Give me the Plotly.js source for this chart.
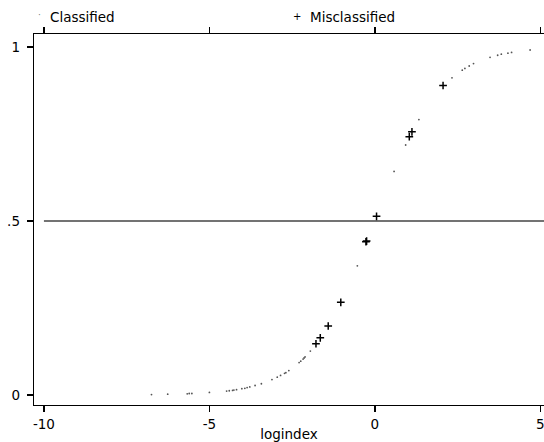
<!DOCTYPE html>
<html>
<head>
<meta charset="utf-8">
<script src="https://cdn.plot.ly/plotly-3.0.1.min.js"></script>
<style>html,body{margin:0;padding:0;background:#fff;}#chart{width:544px;height:442px;}</style>
</head>
<body>
<div id="chart"></div>
<script>
// Classified observations (logindex, predicted probability)
const classifiedX = [-6.75,-6.26,-5.67,-5.61,-5.53,-5.00,-4.48,-4.40,-4.30,-4.26,-4.18,-4.02,-3.93,-3.86,-3.78,-3.62,-3.43,-3.11,-2.95,-2.85,-2.73,-2.69,-2.60,-2.29,-2.24,-2.17,-2.14,-2.11,-1.95,-0.53,0.58,0.93,1.33,2.33,2.64,2.72,2.85,2.98,3.48,3.71,3.82,4.02,4.13,4.69];
const classifiedY = [0.001,0.002,0.003,0.004,0.004,0.007,0.011,0.012,0.013,0.014,0.015,0.018,0.019,0.021,0.023,0.027,0.032,0.044,0.051,0.056,0.062,0.064,0.070,0.093,0.097,0.103,0.106,0.109,0.126,0.371,0.642,0.718,0.791,0.911,0.933,0.938,0.945,0.952,0.970,0.976,0.979,0.982,0.984,0.991];
// Misclassified observations
const misX = [-1.78,-1.65,-1.41,-1.03,-0.27,-0.25,0.05,1.04,1.12,2.06];
const misY = [0.147,0.164,0.198,0.266,0.440,0.442,0.513,0.742,0.756,0.889];
// Axis ticks
const xTicks = [-10,-5,0,5];
const xTickText = ['-10','-5','0','5'];
const yTicks = [0,0.5,1];
const yTickText = ['0','.5','1'];
const cutoff = 0.5;
const legendLabels = ['Classified','Misclassified'];

const FONT = 'DejaVu Sans, Liberation Sans, Arial, sans-serif';
const FS = 13.5;

const traces = [
  {x: classifiedX, y: classifiedY, type: 'scatter', mode: 'markers', name: legendLabels[0],
   marker: {symbol: 'circle', size: 1.8, color: '#555'}, showlegend: false},
  {x: misX, y: misY, type: 'scatter', mode: 'markers', name: legendLabels[1],
   marker: {symbol: 'cross-thin', size: 5.5, color: '#000', line: {color: '#000', width: 1.5}}, showlegend: false}
];

const W = 544, H = 442, L = 34, R = 0, T = 34, B = 37;
const pw = W - L - R, ph = H - T - B;
const px = v => (v - L) / pw;
const py = v => 1 + (T - v) / ph;

const layout = {
  width: W, height: H,
  margin: {l: L, r: R, t: T, b: B, pad: 0},
  paper_bgcolor: '#fff', plot_bgcolor: '#fff',
  font: {family: FONT, size: FS, color: '#000'},
  showlegend: false,
  xaxis: {
    range: [-10.3, 5.11], tickvals: xTicks, ticktext: xTickText,
    showgrid: false, zeroline: false, showline: true, linecolor: '#000', linewidth: 1.3,
    mirror: 'ticks', ticks: 'outside', ticklen: 6, tickwidth: 1.3, tickcolor: '#000',
    tickfont: {family: FONT, size: FS, color: '#000'}, ticklabeloverflow: 'allow',
    title: {text: 'logindex', font: {family: FONT, size: FS, color: '#000'}, standoff: 0},
    automargin: false
  },
  yaxis: {
    range: [-0.029, 1.037], tickvals: yTicks, ticktext: yTickText,
    showgrid: false, zeroline: false, showline: true, linecolor: '#000', linewidth: 1.3,
    mirror: false, ticks: 'outside', ticklen: 6, tickwidth: 1.3, tickcolor: '#000',
    tickfont: {family: FONT, size: FS, color: '#000'}, ticklabelstandoff: 4,
    automargin: false
  },
  shapes: [
    {type: 'line', xref: 'x', yref: 'y', x0: -10, x1: 5.11, y0: cutoff, y1: cutoff,
     line: {color: '#444', width: 1.5}, layer: 'below'}
  ],
  annotations: [
    {xref: 'paper', yref: 'paper', x: px(39), y: py(15), text: '·', showarrow: false,
     xanchor: 'center', yanchor: 'middle', font: {family: FONT, size: 9, color: '#777'}},
    {xref: 'paper', yref: 'paper', x: px(48), y: py(17), text: legendLabels[0], showarrow: false,
     xanchor: 'left', yanchor: 'middle', font: {family: FONT, size: FS, color: '#000'}},
    {xref: 'paper', yref: 'paper', x: px(297), y: py(17), text: '+', showarrow: false,
     xanchor: 'center', yanchor: 'middle', font: {family: FONT, size: 10, color: '#000'}},
    {xref: 'paper', yref: 'paper', x: px(308), y: py(17), text: legendLabels[1], showarrow: false,
     xanchor: 'left', yanchor: 'middle', font: {family: FONT, size: FS, color: '#000'}}
  ]
};

Plotly.newPlot('chart', traces, layout, {staticPlot: true, displayModeBar: false});
</script>
</body>
</html>
